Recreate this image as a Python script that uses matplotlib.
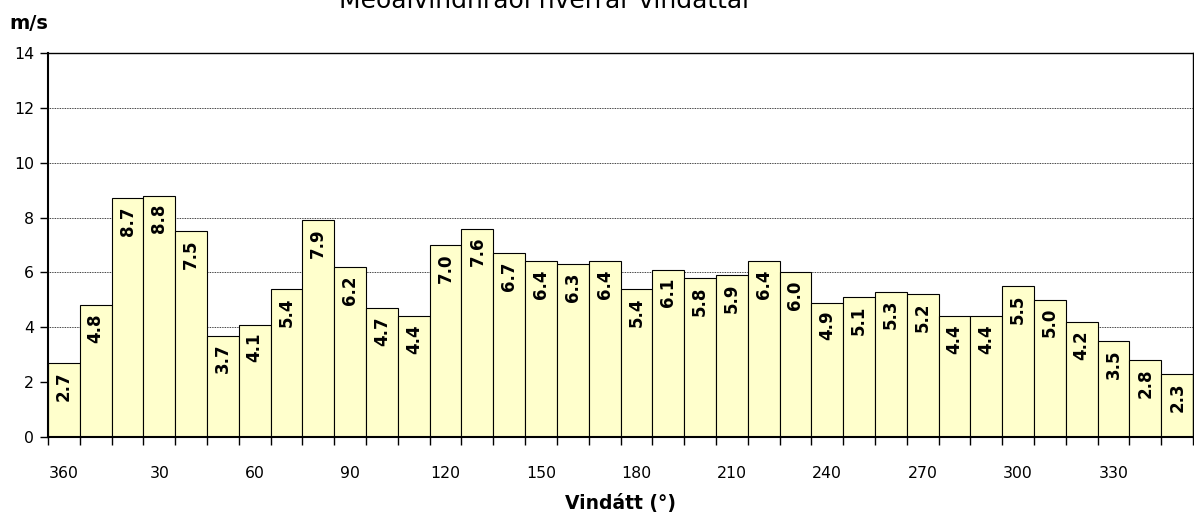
import numpy as np
import matplotlib.pyplot as plt

directions = list(range(0, 360, 10))
speeds = [2.7, 4.8, 8.7, 8.8, 7.5, 3.7, 4.1, 5.4, 7.9, 6.2, 4.7, 4.4,
          7.0, 7.6, 6.7, 6.4, 6.3, 6.4, 5.4, 6.1, 5.8, 5.9, 6.4, 6.0,
          4.9, 5.1, 5.3, 5.2, 4.4, 4.4, 5.5, 5.0, 4.2, 3.5, 2.8, 2.3]
tick_labels = ['360', '30', '60', '90', '120', '150', '180', '210',
               '240', '270', '300', '330']

plt.rcParams['font.family'] = ['DejaVu Sans']

fig = plt.figure(figsize=(11.94, 5.2), dpi=100)
ax = fig.add_axes([0.0402, 0.1596, 0.9590, 0.7385])

x = np.arange(len(speeds))
ax.bar(x, speeds, width=1.0, color='#FFFFCC', edgecolor='black', linewidth=0.8, zorder=2)

for xi, v in zip(x, speeds):
    ax.text(xi, v - 0.3, f'{v:.1f}', rotation=90, ha='center', va='top',
            fontsize=12, fontweight='bold', zorder=3)

ax.set_xlim(-0.5, len(speeds) - 0.5)
ax.set_ylim(0, 14)
ax.set_yticks(range(0, 15, 2))
ax.yaxis.grid(True, linestyle=(0, (1, 1)), color='black', linewidth=0.6, zorder=0)

ax.set_xticks(np.arange(0, 36, 3))
ax.set_xticklabels(tick_labels)
ax.set_xticks(np.arange(-0.5, 36, 1), minor=True)
ax.tick_params(axis='x', which='major', length=0, pad=21, labelsize=11.3)
ax.tick_params(axis='x', which='minor', length=6, width=1)
ax.tick_params(axis='y', length=6, width=1, labelsize=11.3, pad=4)

for s in ax.spines.values():
    s.set_linewidth(1.0)
ax.spines['left'].set_linewidth(1.5)
ax.spines['bottom'].set_linewidth(1.5)

ax.set_xlabel('Vindátt (°)', fontsize=13.5, fontweight='bold', labelpad=9)
fig.text(0.008, 0.955, 'm/s', fontsize=14, fontweight='bold', va='center', ha='left')
fig.text(0.457, 1 - 8 / 520, 'Meðalvindhraði hverrar vindáttar', fontsize=18,
         ha='center', va='baseline')

fig.savefig('out.png', dpi=100)
